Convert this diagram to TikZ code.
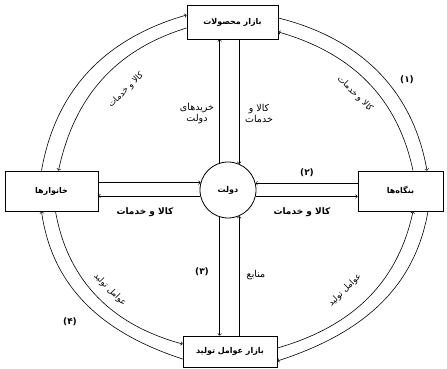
\documentclass[tikz,border=0pt]{standalone}
\usepackage{fontspec}
\newfontfamily\arabicfont[Script=Arabic]{DejaVu Sans}
\TeXXeTstate=1
\usetikzlibrary{calc}
\def\fa#1{\beginR #1\endR}
\tikzset{
	box/.style={draw, line width=0.8pt, inner sep=0pt, font=\arabicfont\bfseries\fontsize{8}{9}\selectfont},
	flow/.style={->, line width=0.6pt},
	lbl/.style={font=\arabicfont\fontsize{9.5}{11}\selectfont, align=center, inner sep=1pt},
	rlbl/.style={lbl, font=\arabicfont\fontsize{8.5}{10}\selectfont},
	blbl/.style={lbl, font=\arabicfont\bfseries\fontsize{9}{11}\selectfont},
}

\begin{document}
\begin{tikzpicture}[x=1pt, y=1pt]
		%%%%% START %%%%%
		\useasboundingbox (0,0) rectangle (447,369);
		
		\node[box, minimum width=91, minimum height=34] (mahsulat) at (232.5,347) {\fa{بازار محصولات}};
		\node[box, minimum width=94, minimum height=31] (avamel) at (230,17.5) {\fa{بازار عوامل تولید}};
		\node[box, minimum width=93, minimum height=40] (khanevar) at (51.5,178) {\fa{خانوارها}};
		\node[box, minimum width=85, minimum height=40] (bongah) at (400.5,178) {\fa{بنگاه‌ها}};
		\node[box, circle, minimum size=56] (dolat) at (228,179) {\fa{دولت}};
		
		% government and product market
		\draw[flow] (dolat.107) -- (dolat.107 |- mahsulat.south);
		\draw[flow] (dolat.67 |- mahsulat.south) -- (dolat.67);
		
		% government and factor market
		\draw[flow] (dolat.253) -- (dolat.253 |- avamel.north);
		\draw[flow] (dolat.293 |- avamel.north) -- (dolat.293);
		
		% households and government
		\draw[flow] (dolat.165.5 -| khanevar.east) -- (dolat.165.5);
		\draw[flow] (dolat.192.4) -- (dolat.192.4 -| khanevar.east);
		
		% firms and government
		\draw[flow] (dolat.14.5 -| bongah.west) -- (dolat.14.5);
		\draw[flow] (dolat.347.6) -- (dolat.347.6 -| bongah.west);
		
		% outer circuit
		\draw[flow] ($(khanevar.north)+(-10,0)$) to[out=80, in=196] ($(mahsulat.west)+(0,7)$);
		\draw[flow] ($(mahsulat.west)+(0,-6)$) to[out=197, in=78] ($(khanevar.north)+(7,0)$);
		
		\draw[flow] ($(mahsulat.east)+(0,4)$) to[out=-14, in=100] ($(bongah.north)+(26.5,0)$);
		\draw[flow] ($(bongah.north)+(12.5,0)$) to[out=102, in=-16] ($(mahsulat.east)+(0,-10)$);
		
		\draw[flow] ($(khanevar.south)+(4,0)$) to[out=-80, in=165] ($(avamel.west)+(0,7.5)$);
		\draw[flow] ($(avamel.west)+(0,-7.5)$) to[out=162, in=-82] ($(khanevar.south)+(-10,0)$);
		
		\draw[flow] ($(avamel.east)+(0,3.5)$) to[out=16, in=258] ($(bongah.south)+(12.5,0)$);
		\draw[flow] ($(bongah.south)+(27.5,0)$) to[out=260, in=18] ($(avamel.east)+(0,-9.5)$);
		
		% labels
		\node[rlbl, rotate=45] (l1) at (126,279) {\fa{کالا و خدمات}};
		\node[rlbl, rotate=-45] (l2) at (355,275) {\fa{کالا و خدمات}};
		\node[blbl] (n1) at (407,289) {(۱)};
		\node[rlbl, rotate=-45] (l3) at (110,79) {\fa{عوامل تولید}};
		\node[blbl] (n4) at (70,47) {(۴)};
		\node[rlbl, rotate=45] (l4) at (345,79) {\fa{عوامل تولید}};
		\node[lbl] (l5) at (197,255) {\fa{خریدهای}\\\fa{دولت}};
		\node[lbl] (l6) at (259,255) {\fa{کالا و}\\\fa{خدمات}};
		\node[blbl] (n3) at (202,97) {(۳)};
		\node[lbl] (l7) at (256,94) {\fa{منابع}};
		\node[blbl] (l8) at (145,157) {\fa{کالا و خدمات}};
		\node[blbl] (l9) at (302,157) {\fa{کالا و خدمات}};
		\node[blbl] (n2) at (307,196) {(۲)};
		%%%%% END %%%%%
	\end{tikzpicture}
\end{document}
